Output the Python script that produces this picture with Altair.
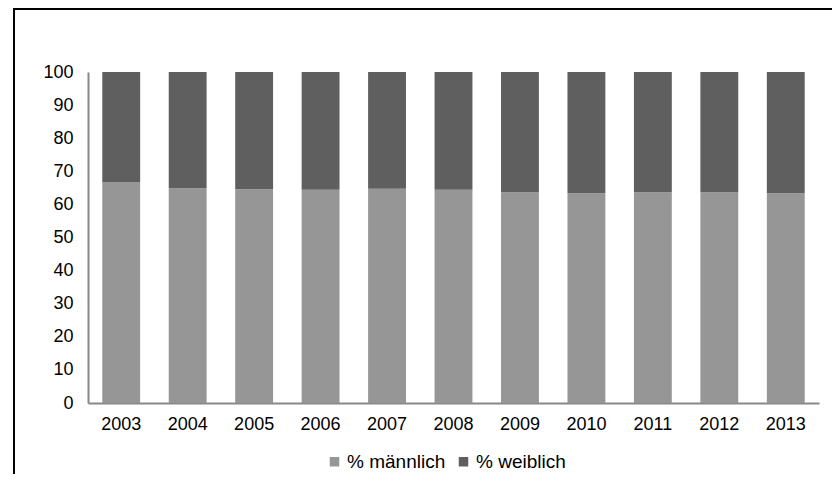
import altair as alt
import pandas as pd

years = ["2003", "2004", "2005", "2006", "2007", "2008", "2009", "2010", "2011", "2012", "2013"]
maennlich = [66.8, 64.9, 64.6, 64.4, 64.7, 64.4, 63.7, 63.4, 63.7, 63.7, 63.4]
weiblich = [round(100 - m, 1) for m in maennlich]
series = ["% männlich", "% weiblich"]
colors = ["#969696", "#5f5f5f"]
y_ticks = [0, 10, 20, 30, 40, 50, 60, 70, 80, 90, 100]

rows = []
for i, y in enumerate(years):
    rows.append({"Jahr": y, "Serie": series[0], "Wert": maennlich[i], "ord": 0})
    rows.append({"Jahr": y, "Serie": series[1], "Wert": weiblich[i], "ord": 1})
df = pd.DataFrame(rows)

W, H = 731, 331
FONT = "Liberation Sans"
FS = 18

bars = alt.Chart(df).mark_bar().encode(
    x=alt.X("Jahr:N", sort=years, title=None,
            scale=alt.Scale(paddingInner=0.43, paddingOuter=0.215),
            axis=alt.Axis(labelAngle=0, labelFontSize=FS, labelColor="#000000",
                          labelFont=FONT, domainColor="#888888", domainWidth=2,
                          ticks=False, labelPadding=12)),
    y=alt.Y("Wert:Q", stack="zero", title=None,
            scale=alt.Scale(domain=[0, 100], nice=False),
            axis=alt.Axis(values=y_ticks, labelFontSize=FS, labelColor="#000000",
                          labelFont=FONT, domainColor="#888888", domainWidth=2,
                          grid=False, ticks=False, labelPadding=15)),
    color=alt.Color("Serie:N", sort=series,
                    scale=alt.Scale(domain=series, range=colors),
                    legend=alt.Legend(title=None, orient="none", direction="horizontal",
                                      legendX=237, legendY=380, symbolType="square",
                                      symbolSize=90, symbolStrokeWidth=0,
                                      labelFontSize=19, labelFont=FONT,
                                      labelColor="#000000", columnPadding=8,
                                      labelOffset=3)),
    order=alt.Order("ord:Q"),
)

frame_df = pd.DataFrame({"a": [0]})
top_border = alt.Chart(frame_df).mark_rule(
    stroke="#000000", strokeWidth=2, clip=False
).encode(
    x=alt.value(-75), x2=alt.value(W + 13), y=alt.value(-63),
)
left_border = alt.Chart(frame_df).mark_rule(
    stroke="#000000", strokeWidth=2, clip=False
).encode(
    x=alt.value(-74), y=alt.value(-64), y2=alt.value(H + 71),
)

chart = alt.layer(bars, top_border, left_border).properties(
    width=W, height=H,
    autosize=alt.AutoSizeParams(type="none"),
    padding={"left": 80, "top": 64, "right": 13, "bottom": 71},
).configure_view(stroke="transparent", strokeWidth=0)

chart.save("out.html", embed_options={"renderer": "svg", "actions": False})
